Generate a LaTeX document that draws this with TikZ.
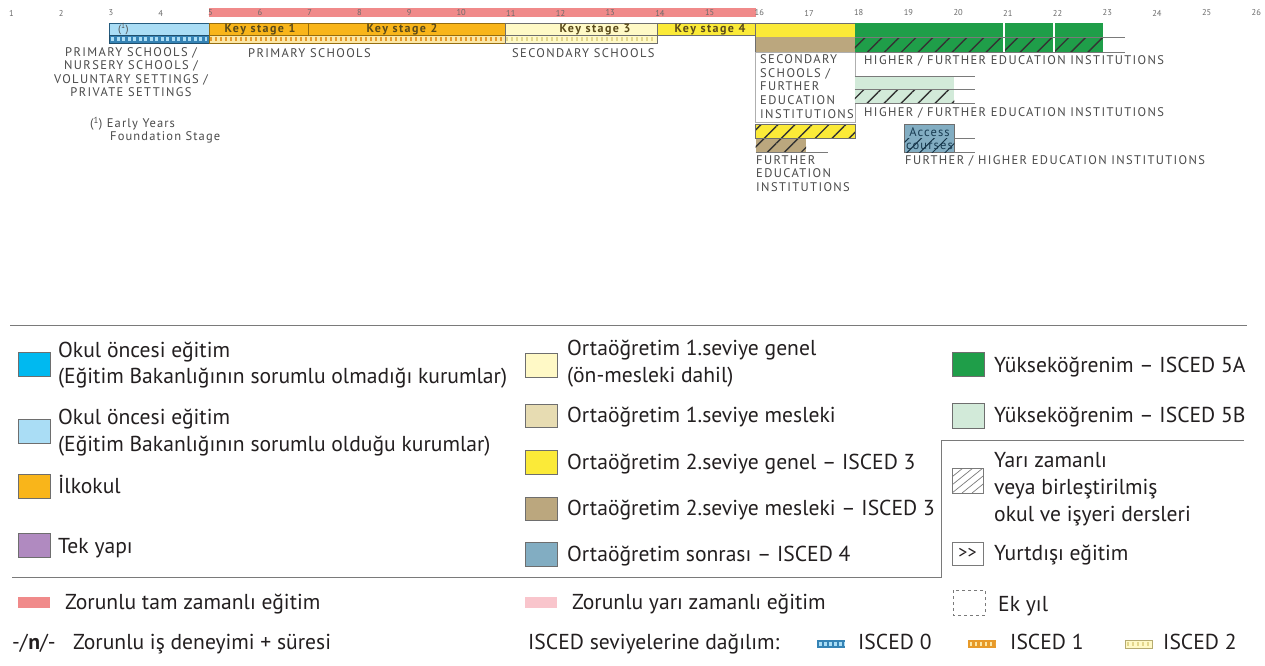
\documentclass[tikz,border=0pt]{standalone}
\usepackage{fontspec}
\setmainfont{PT Sans}
\newfontfamily\chartfont[LetterSpace=11]{PT Sans}
\newfontfamily\ksfont[LetterSpace=12]{PT Sans}
\newfontfamily\smallfont[LetterSpace=9]{PT Sans}
\usetikzlibrary{patterns.meta}
\definecolor{txtgray}{HTML}{4A4A4A}
\definecolor{numgray}{HTML}{6A6A6A}
\definecolor{legtext}{HTML}{231F20}
\definecolor{ksbrown}{HTML}{5A4A1A}
\definecolor{bordergray}{HTML}{6E6E6E}
\definecolor{redc}{HTML}{F08A8A}
\definecolor{pinkc}{HTML}{F9C5CC}
\definecolor{prebluedark}{HTML}{00B9F0}
\definecolor{preblue}{HTML}{AADDF5}
\definecolor{isced0}{HTML}{3583B5}
\definecolor{orangec}{HTML}{F9B51A}
\definecolor{isced1}{HTML}{E79A2A}
\definecolor{isced1l}{HTML}{FBE7A6}
\definecolor{lyellow}{HTML}{FFF9C6}
\definecolor{isced2}{HTML}{E3D68C}
\definecolor{yellowc}{HTML}{FBEA38}
\definecolor{tanl}{HTML}{E7DCB2}
\definecolor{tanc}{HTML}{BBA77E}
\definecolor{greenc}{HTML}{1F9E49}
\definecolor{lgreen}{HTML}{D2EAD9}
\definecolor{accessc}{HTML}{82ADC2}
\definecolor{purplec}{HTML}{B08AC0}
\definecolor{linegray}{HTML}{7A7A7A}
\begin{document}
\begin{tikzpicture}[x=1pt,y=-1pt,
  chart/.style={font=\chartfont\fontsize{12.5}{13.6}\selectfont, text=txtgray, inner sep=0pt},
  agenum/.style={font=\fontsize{8.5}{9}\selectfont, text=numgray, inner sep=0pt, anchor=west},
  ks/.style={font=\ksfont\bfseries\fontsize{12}{12}\selectfont, text=ksbrown, inner sep=0pt},
  leg/.style={font=\fontsize{21.6}{26}\selectfont, text=legtext, inner sep=0pt, anchor=base west},
  bx/.style={draw=bordergray, line width=0.6pt},
  swatch/.style={draw=bordergray, line width=1pt},
  hatch/.style={pattern={Lines[angle=45,distance=12pt,line width=1.4pt]}, pattern color=black!80},
  ext/.style={draw=linegray, line width=0.7pt},
]
\useasboundingbox (0,0) rectangle (1265,665);
\fill[white] (0,0) rectangle (1265,665);

% compulsory bar
\fill[redc] (208.8,8) rectangle (755.5,17);
% age scale
\foreach \a in {1,...,26}{
  \node[agenum] (age\a) at ({10+(\a-1)*49.7-1},13) {\a};
}

% pre-primary
\fill[preblue] (109.4,23) rectangle (208.8,35.5);
\draw[bx, draw=isced0!70!black] (109.4,23) rectangle (208.8,35.5);
\node[font=\fontsize{10.5}{10}\selectfont, text=txtgray, anchor=west, inner sep=0pt] (fn) at (118,29) {(\textsuperscript{1})};
\fill[isced0] (109.4,35.5) rectangle (208.8,43);
\draw[preblue, line width=4pt, dash pattern=on 3pt off 2.5pt] (111,39.25) -- (207,39.25);
\draw[bx, draw=isced0!60!black] (109.4,35.5) rectangle (208.8,43);

% primary
\fill[orangec] (208.8,23) rectangle (505,35.5);
\draw[bx, draw=orangec!60!black] (208.8,23) rectangle (308.2,35.5);
\draw[bx, draw=orangec!60!black] (308.2,23) rectangle (505,35.5);
\node[ks] (ks1) at (260,29.5) {Key stage 1};
\node[ks] (ks2) at (402,29.5) {Key stage 2};
\fill[isced1l] (208.8,35.5) rectangle (505,43);
\draw[isced1, line width=4pt, dash pattern=on 2pt off 3pt] (210,39.25) -- (504,39.25);
\draw[bx, draw=orangec!60!black] (208.8,35.5) rectangle (505,43);

% lower secondary
\fill[lyellow] (505,23) rectangle (657,35.5);
\draw[bx] (505,23) rectangle (657,35.5);
\node[ks] (ks3) at (595,29.5) {Key stage 3};
\fill[lyellow] (505,35.5) rectangle (657,43);
\draw[isced2, line width=4pt, dash pattern=on 2pt off 3pt] (506,39.25) -- (656,39.25);
\draw[bx] (505,35.5) rectangle (657,43);

% key stage 4
\fill[yellowc] (657,23) rectangle (755.5,35.5);
\draw[bx] (657,23) rectangle (755.5,35.5);
\node[ks] (ks4) at (710,29.5) {Key stage 4};

% 16-18
\fill[yellowc] (755.5,23) rectangle (854.9,37);
\fill[tanc] (755.5,37) rectangle (854.9,52);
\draw[bx] (755.5,23) rectangle (854.9,52);
\draw[bx, draw=linegray!60] (755.5,52) rectangle (854.9,122);
\node[chart, anchor=north west, align=left] (secfe) at (760,54.5)
  {SECONDARY\\SCHOOLS /\\FURTHER\\EDUCATION\\INSTITUTIONS};
\fill[yellowc] (755.5,124) rectangle (854.9,138.5);
\fill[hatch] (755.5,124) rectangle (854.9,138.5);
\fill[tanc] (755.5,138.5) rectangle (806,152.5);
\fill[hatch] (755.5,138.5) rectangle (806,152.5);
\draw[bx] (755.5,124) rectangle (854.9,138.5);
\coordinate (tanend) at (828,152.5);
\draw[ext] (755.5,152.5) -- (tanend);
\node[chart, anchor=north west, align=left] (fei) at (756,155)
  {FURTHER\\EDUCATION\\INSTITUTIONS};

% higher education 5A
\fill[greenc] (854.9,23) rectangle (1103.4,37);
\fill[greenc] (854.9,37) rectangle (1103.4,52);
\fill[hatch] (854.9,37) rectangle (1103.4,52);
\draw[white, line width=1.6pt] (1004,23) -- (1004,52) (1053.7,23) -- (1053.7,52);
\coordinate (e5a1) at (1125,37);
\coordinate (e5a2) at (1125,52);
\draw[ext] (854.9,37) -- (e5a1);
\draw[ext] (854.9,52) -- (e5a2);
\node[chart, anchor=west] (hfe1) at (864,60.5) {HIGHER / FURTHER EDUCATION INSTITUTIONS};

% higher education 5B
\fill[lgreen] (854.9,76) rectangle (954.3,103.5);
\fill[hatch] (854.9,89.5) rectangle (954.3,103.5);
\coordinate (e5b1) at (975,76);
\coordinate (e5b2) at (975,89.5);
\coordinate (e5b3) at (975,103.5);
\draw[ext] (854.9,76) -- (e5b1);
\draw[ext] (854.9,89.5) -- (e5b2);
\draw[ext] (854.9,103.5) -- (e5b3);
\node[chart, anchor=west] (hfe2) at (864,113) {HIGHER / FURTHER EDUCATION INSTITUTIONS};

% access courses
\fill[accessc] (904.6,124.5) rectangle (954.3,152.5);
\draw[bx] (904.6,124.5) rectangle (954.3,152.5);
\node[font=\smallfont\fontsize{12.5}{13.5}\selectfont, text=isced0!45!black, inner sep=0pt, align=center] (acc) at (929.5,138.5) {Access\\courses};
\fill[pattern={Lines[angle=45,distance=9pt,line width=1pt]}, pattern color=isced0!40!black] (904.6,138.5) rectangle (954.3,152.5);
\coordinate (ea1) at (975,138.5);
\coordinate (ea2) at (975,152.5);
\draw[ext] (954.3,138.5) -- (ea1);
\draw[ext] (954.3,152.5) -- (ea2);
\node[chart, anchor=west] (fhe) at (905,161) {FURTHER / HIGHER EDUCATION INSTITUTIONS};

% left labels
\node[chart, anchor=north, align=center] (preinst) at (131,47)
  {PRIMARY SCHOOLS /\\NURSERY SCHOOLS /\\VOLUNTARY SETTINGS /\\PRIVATE SETTINGS};
\node[chart, anchor=west] (ps) at (248,53.5) {PRIMARY SCHOOLS};
\node[chart, anchor=west] (ss) at (512,53.5) {SECONDARY SCHOOLS};
\node[font=\smallfont\fontsize{12.5}{12}\selectfont, text=txtgray, inner sep=0pt, anchor=west] (ey1) at (90,124) {(\textsuperscript{1}) Early Years};
\node[font=\smallfont\fontsize{12.5}{12}\selectfont, text=txtgray, inner sep=0pt, anchor=west] (ey2) at (110,137) {Foundation Stage};

% ---------------- legend ----------------
\draw[linegray, line width=1pt] (10,325) -- (1247,325);
\draw[linegray, line width=1pt] (12,577) -- (941,577) -- (941,440) -- (1244,440);

% column 1
\filldraw[swatch, fill=prebluedark] (18,352) rectangle (50,376);
\node[leg] (l1a) at (58,357) {Okul öncesi eğitim};
\node[leg] (l1b) at (58,383) {(Eğitim Bakanlığının sorumlu olmadığı kurumlar)};
\filldraw[swatch, fill=preblue] (18,419) rectangle (50,443);
\node[leg] (l2a) at (58,424) {Okul öncesi eğitim};
\node[leg] (l2b) at (58,451) {(Eğitim Bakanlığının sorumlu olduğu kurumlar)};
\filldraw[swatch, fill=orangec] (18,474) rectangle (50,498);
\node[leg] (l3) at (58,493) {İlkokul};
\filldraw[swatch, fill=purplec] (18,533) rectangle (50,557);
\node[leg] (l4) at (58,553) {Tek yapı};
\fill[redc] (18,597) rectangle (50,608);
\node[leg] (l5) at (65,609) {Zorunlu tam zamanlı eğitim};
\node[leg] (l6a) at (12,649) {-/\textbf{n}/-};
\node[leg] (l6) at (73,649) {Zorunlu iş deneyimi + süresi};

% column 2
\filldraw[swatch, fill=lyellow] (525,353) rectangle (557,377);
\node[leg] (m1a) at (567,355) {Ortaöğretim 1.seviye genel};
\node[leg] (m1b) at (567,382) {(ön-mesleki dahil)};
\filldraw[swatch, fill=tanl] (525,404) rectangle (557,427);
\node[leg] (m2) at (567,422) {Ortaöğretim 1.seviye mesleki};
\filldraw[swatch, fill=yellowc] (525,450) rectangle (557,474);
\node[leg] (m3) at (567,469) {Ortaöğretim 2.seviye genel -- ISCED 3};
\filldraw[swatch, fill=tanc] (525,497) rectangle (557,520);
\node[leg] (m4) at (567,515) {Ortaöğretim 2.seviye mesleki -- ISCED 3};
\filldraw[swatch, fill=accessc] (525,542) rectangle (557,566);
\node[leg] (m5) at (567,561) {Ortaöğretim sonrası -- ISCED 4};
\fill[pinkc] (525,597) rectangle (557,608);
\node[leg] (m6) at (572,609) {Zorunlu yarı zamanlı eğitim};
\node[leg] (m7) at (528,649) {ISCED seviyelerine dağılım:};
\fill[isced0] (817,640) rectangle (845,648);
\draw[preblue, line width=4pt, dash pattern=on 3pt off 2pt] (818.5,644) -- (844,644);
\node[leg] (m8) at (858,649) {ISCED 0};

% column 3
\filldraw[swatch, fill=greenc] (952,352) rectangle (984,376);
\node[leg] (r1) at (994,372) {Yükseköğrenim -- ISCED 5A};
\filldraw[swatch, fill=lgreen] (952,403) rectangle (984,428);
\node[leg] (r2) at (994,422) {Yükseköğrenim -- ISCED 5B};
\begin{scope}
  \clip (952,468) rectangle (983,493);
  \foreach \s in {-20,-10,0,10,20}{
    \draw[linegray, line width=0.7pt] (952+\s,493) -- ++(31,-25);
  }
\end{scope}
\draw[linegray, line width=0.7pt] (952,468) rectangle (983,493);
\node[leg] (r3a) at (994,467) {Yarı zamanlı};
\node[leg] (r3b) at (994,494) {veya birleştirilmiş};
\node[leg] (r3c) at (994,521) {okul ve işyeri dersleri};
\node[draw=linegray, line width=0.7pt, minimum width=31pt, minimum height=23pt, inner sep=0pt,
  font=\fontsize{18}{18}\selectfont, text=legtext] (abroad) at (967.5,553.5) {>{}>};
\node[leg] (r4) at (994,560) {Yurtdışı eğitim};
\draw[linegray, line width=0.7pt, dash pattern=on 3pt off 3pt] (953,590) rectangle (985,615);
\node[leg] (r5) at (998,611) {Ek yıl};
\fill[isced1] (968,640) rectangle (996,648);
\draw[isced1l, line width=4pt, dash pattern=on 2pt off 3pt] (970,644) -- (995,644);
\node[leg] (r6) at (1010,649) {ISCED 1};
\fill[lyellow] (1125,640) rectangle (1152,648);
\draw[isced2, line width=4pt, dash pattern=on 2pt off 3pt] (1127,644) -- (1151,644);
\draw[isced2!80!black, line width=0.5pt] (1125,640) rectangle (1152,648);
\node[leg] (r7) at (1163,649) {ISCED 2};
\end{tikzpicture}
\end{document}
